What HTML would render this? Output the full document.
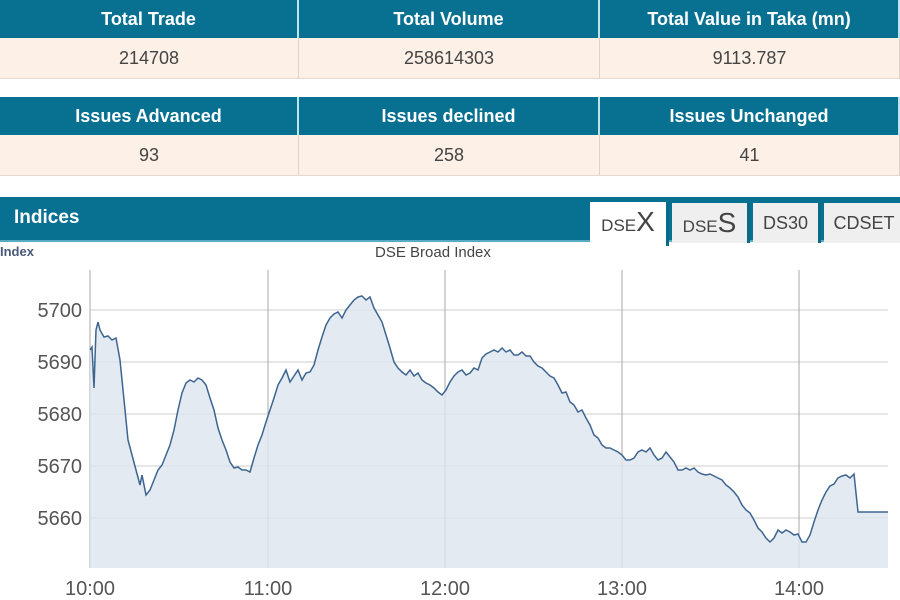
<!DOCTYPE html>
<html><head><style>
body{margin:0;width:900px;height:600px;background:#fff;font-family:"Liberation Sans",Arial,sans-serif;overflow:hidden;position:relative}
.row{position:absolute;left:0;width:900px;display:flex}
.row div{flex:none;text-align:center;box-sizing:border-box}
.h div{background:#087192;color:#fff;font-weight:bold;font-size:18px;border-right:2px solid #bfe3ee;line-height:38px}
.v div{background:#fdf0e6;color:#444;font-size:18px;border-right:1px solid #e0d4c8;line-height:40px;border-bottom:1px solid #e5d9cc}
.tab{position:absolute;top:203px;height:40px;background:#efefef;color:#444;font-size:18px;line-height:40px;text-align:center;border-right:3px solid #0a6a88}
</style></head><body>
<div class="row h" style="top:0"><div style="width:299px">Total Trade</div><div style="width:301px">Total Volume</div><div style="width:300px">Total Value in Taka (mn)</div></div>
<div class="row v" style="top:38px"><div style="width:299px">214708</div><div style="width:301px">258614303</div><div style="width:300px">9113.787</div></div>
<div class="row h" style="top:97px"><div style="width:299px">Issues Advanced</div><div style="width:301px">Issues declined</div><div style="width:300px">Issues Unchanged</div></div>
<div class="row v" style="top:135px"><div style="width:299px">93</div><div style="width:301px">258</div><div style="width:300px">41</div></div>
<div style="position:absolute;top:197px;left:0;width:900px;height:43px;background:#087192;border-bottom:2px solid #5aaac2"></div>
<div style="position:absolute;top:207px;left:14px;color:#fff;font-weight:bold;font-size:19px">Indices</div>
<div class="tab" style="left:590px;width:76px;background:#fff;height:44px;top:202px;border-right:3px solid #0a6a88"><span style="font-size:17px">DSE</span><span style="font-size:28px">X</span></div>
<div class="tab" style="left:672px;width:75px"><span style="font-size:17px">DSE</span><span style="font-size:28px">S</span></div>
<div class="tab" style="left:753px;width:65px">DS30</div>
<div class="tab" style="left:824px;width:80px;border:none">CDSET</div>
<div style="position:absolute;top:244px;left:0;font-size:13px;font-weight:bold;color:#4a5a7a">Index</div>
<div style="position:absolute;top:244px;left:375px;font-size:15px;color:#444">DSE Broad Index</div>
<svg width="900" height="600" style="position:absolute;left:0;top:0">
<g stroke="#ccc" stroke-width="1">
<line x1="90" y1="310" x2="888" y2="310"/><line x1="90" y1="362" x2="888" y2="362"/><line x1="90" y1="414" x2="888" y2="414"/><line x1="90" y1="466" x2="888" y2="466"/><line x1="90" y1="518" x2="888" y2="518"/>
</g>
<g stroke="#aaa" stroke-width="1">
<line x1="90" y1="270" x2="90" y2="568"/><line x1="268" y1="270" x2="268" y2="568"/><line x1="445" y1="270" x2="445" y2="568"/><line x1="622" y1="270" x2="622" y2="568"/><line x1="799" y1="270" x2="799" y2="568"/>
</g>
<polygon fill="#dde5ee" fill-opacity="0.8" stroke="none" points="90,568 90,350 92,347 94,388 96,330 98,322 100,330 104,337 108,336 112,340 116,338 120,360 124,400 128,440 132,455 136,470 140,485 142,475 146,495 150,490 154,480 158,470 162,465 166,455 170,445 174,430 178,410 182,393 186,383 190,380 194,382 198,378 202,380 206,385 210,398 214,410 218,428 222,440 226,450 230,462 234,468 238,467 242,470 246,470 250,472 254,458 258,445 262,435 266,422 270,410 274,398 278,385 282,378 286,370 290,382 294,376 298,370 302,380 306,373 310,372 314,365 318,350 322,337 326,325 330,318 334,314 338,312 342,318 346,310 350,305 354,300 358,297 362,296 366,300 370,297 374,308 378,315 382,322 386,335 390,348 394,362 398,368 402,372 406,375 410,370 414,376 418,373 422,380 426,383 430,385 434,388 438,392 442,395 446,390 450,382 454,376 458,372 462,370 466,375 470,373 474,368 478,370 482,358 486,354 490,352 494,350 498,352 502,348 506,352 510,350 514,355 518,355 522,352 526,356 530,356 534,362 538,366 542,368 546,372 550,376 554,378 558,385 562,393 566,392 570,402 574,405 578,412 582,410 586,418 590,425 594,435 598,438 602,445 606,448 610,448 614,450 618,452 622,455 626,460 630,460 634,458 638,452 642,450 646,452 650,448 654,455 658,460 662,458 666,452 670,457 674,462 678,470 682,470 686,468 690,470 694,468 698,472 702,474 706,475 710,474 714,476 718,478 722,480 726,485 730,488 734,492 738,497 742,505 746,510 750,513 754,520 758,528 762,532 766,538 770,542 774,538 778,530 782,533 786,530 790,532 794,535 798,534 802,542 806,542 810,535 814,522 818,510 822,500 826,492 830,486 834,484 838,478 842,476 846,475 850,478 854,474 858,512 888,512 888,568"/>
<polyline fill="none" stroke="#3d6590" stroke-width="1.5" points="90,350 92,347 94,388 96,330 98,322 100,330 104,337 108,336 112,340 116,338 120,360 124,400 128,440 132,455 136,470 140,485 142,475 146,495 150,490 154,480 158,470 162,465 166,455 170,445 174,430 178,410 182,393 186,383 190,380 194,382 198,378 202,380 206,385 210,398 214,410 218,428 222,440 226,450 230,462 234,468 238,467 242,470 246,470 250,472 254,458 258,445 262,435 266,422 270,410 274,398 278,385 282,378 286,370 290,382 294,376 298,370 302,380 306,373 310,372 314,365 318,350 322,337 326,325 330,318 334,314 338,312 342,318 346,310 350,305 354,300 358,297 362,296 366,300 370,297 374,308 378,315 382,322 386,335 390,348 394,362 398,368 402,372 406,375 410,370 414,376 418,373 422,380 426,383 430,385 434,388 438,392 442,395 446,390 450,382 454,376 458,372 462,370 466,375 470,373 474,368 478,370 482,358 486,354 490,352 494,350 498,352 502,348 506,352 510,350 514,355 518,355 522,352 526,356 530,356 534,362 538,366 542,368 546,372 550,376 554,378 558,385 562,393 566,392 570,402 574,405 578,412 582,410 586,418 590,425 594,435 598,438 602,445 606,448 610,448 614,450 618,452 622,455 626,460 630,460 634,458 638,452 642,450 646,452 650,448 654,455 658,460 662,458 666,452 670,457 674,462 678,470 682,470 686,468 690,470 694,468 698,472 702,474 706,475 710,474 714,476 718,478 722,480 726,485 730,488 734,492 738,497 742,505 746,510 750,513 754,520 758,528 762,532 766,538 770,542 774,538 778,530 782,533 786,530 790,532 794,535 798,534 802,542 806,542 810,535 814,522 818,510 822,500 826,492 830,486 834,484 838,478 842,476 846,475 850,478 854,474 858,512 888,512"/>
<g font-family="Liberation Sans,Arial,sans-serif" font-size="20" fill="#555" text-anchor="end">
<text x="82" y="317">5700</text><text x="82" y="369">5690</text><text x="82" y="421">5680</text><text x="82" y="473">5670</text><text x="82" y="525">5660</text>
</g>
<g font-family="Liberation Sans,Arial,sans-serif" font-size="20" fill="#555" text-anchor="middle">
<text x="90" y="595">10:00</text><text x="268" y="595">11:00</text><text x="445" y="595">12:00</text><text x="622" y="595">13:00</text><text x="799" y="595">14:00</text>
</g>
</svg>
</body></html>
